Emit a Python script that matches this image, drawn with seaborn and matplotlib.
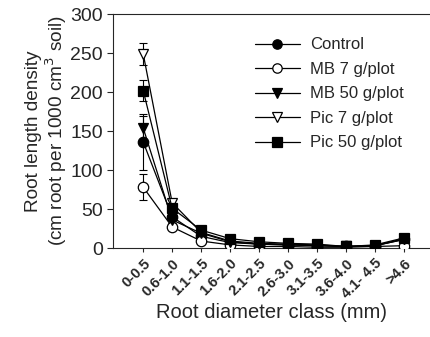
import numpy as np
import pandas as pd
import matplotlib
matplotlib.use("Agg")
import matplotlib.pyplot as plt
import seaborn as sns

sns.set_style("ticks")
plt.rcParams['font.family'] = ['Liberation Sans', 'DejaVu Sans']

# Root diameter classes
classes = ["0-0.5", "0.6-1.0", "1.1-1.5", "1.6-2.0", "2.1-2.5",
           "2.6-3.0", "3.1-3.5", "3.6-4.0", "4.1- 4.5", ">4.6"]

# Root length density per treatment
control = [136, 40, 15, 7, 5, 4, 3, 2, 3, 11]
mb7 = [78, 27, 9, 4, 2, 2, 1, 1, 2, 3]
mb50 = [154, 36, 19, 8, 5, 4, 3, 2, 3, 11]
pic7 = [249, 58, 20, 9, 6, 5, 4, 2, 3, 12]
pic50 = [202, 51, 23, 12, 8, 6, 5, 2, 4, 13]

# Error bars (SE), only visible on the first classes
control_err = [36, 4, 2, 1, 1, 1, 1, 1, 1, 2]
mb7_err = [17, 3, 1, 1, 1, 1, 1, 1, 1, 1]
mb50_err = [16, 4, 2, 1, 1, 1, 1, 1, 1, 2]
pic7_err = [14, 5, 2, 1, 1, 1, 1, 1, 1, 2]
pic50_err = [14, 5, 2, 1, 1, 1, 1, 1, 1, 2]

series = [
    ("Control", control, control_err, "o", "black"),
    ("MB 7 g/plot", mb7, mb7_err, "o", "white"),
    ("MB 50 g/plot", mb50, mb50_err, "v", "black"),
    ("Pic 7 g/plot", pic7, pic7_err, "v", "white"),
    ("Pic 50 g/plot", pic50, pic50_err, "s", "black"),
]

fig = plt.figure(figsize=(4.3, 3.37), dpi=100)
ax = fig.add_axes([0.263, 0.264, 0.737, 0.694])

x = np.arange(len(classes))
for name, vals, errs, mk, fc in series:
    df = pd.DataFrame({"x": x, "y": vals})
    ax.errorbar(x, vals, yerr=errs, fmt="none", ecolor="black",
                elinewidth=0.8, capsize=3, capthick=0.8, zorder=2)
    sns.lineplot(data=df, x="x", y="y", ax=ax, color="black", lw=0.9,
                 marker=mk, markersize=7.5, markerfacecolor=fc,
                 markeredgecolor="black", markeredgewidth=0.9,
                 label=name, zorder=3)

ax.set_xlim(-1.04, 9.9)
ax.set_ylim(0, 300)
ax.set_yticks([0, 50, 100, 150, 200, 250, 300])
ax.set_xticks(x)
ax.set_xticklabels(classes, rotation=45, ha="right", rotation_mode="anchor",
                   fontsize=10.5, fontweight="bold")
ax.tick_params(axis="y", labelsize=14, direction="out", length=4)
ax.tick_params(axis="x", direction="out", length=3, pad=3)
ax.spines["right"].set_visible(False)
ax.set_xlabel("Root diameter class (mm)", fontsize=14.5, labelpad=1)
ax.set_ylabel("Root length density\n(cm root per 1000 cm$^3$ soil)",
              fontsize=13.7, labelpad=1, linespacing=1.05)

leg = ax.legend(loc="upper left", bbox_to_anchor=(0.40, 0.965), frameon=False,
                fontsize=12, handlelength=2.7, labelspacing=0.57,
                handletextpad=0.6, markerscale=0.9)

fig.savefig("out.png", dpi=100)
